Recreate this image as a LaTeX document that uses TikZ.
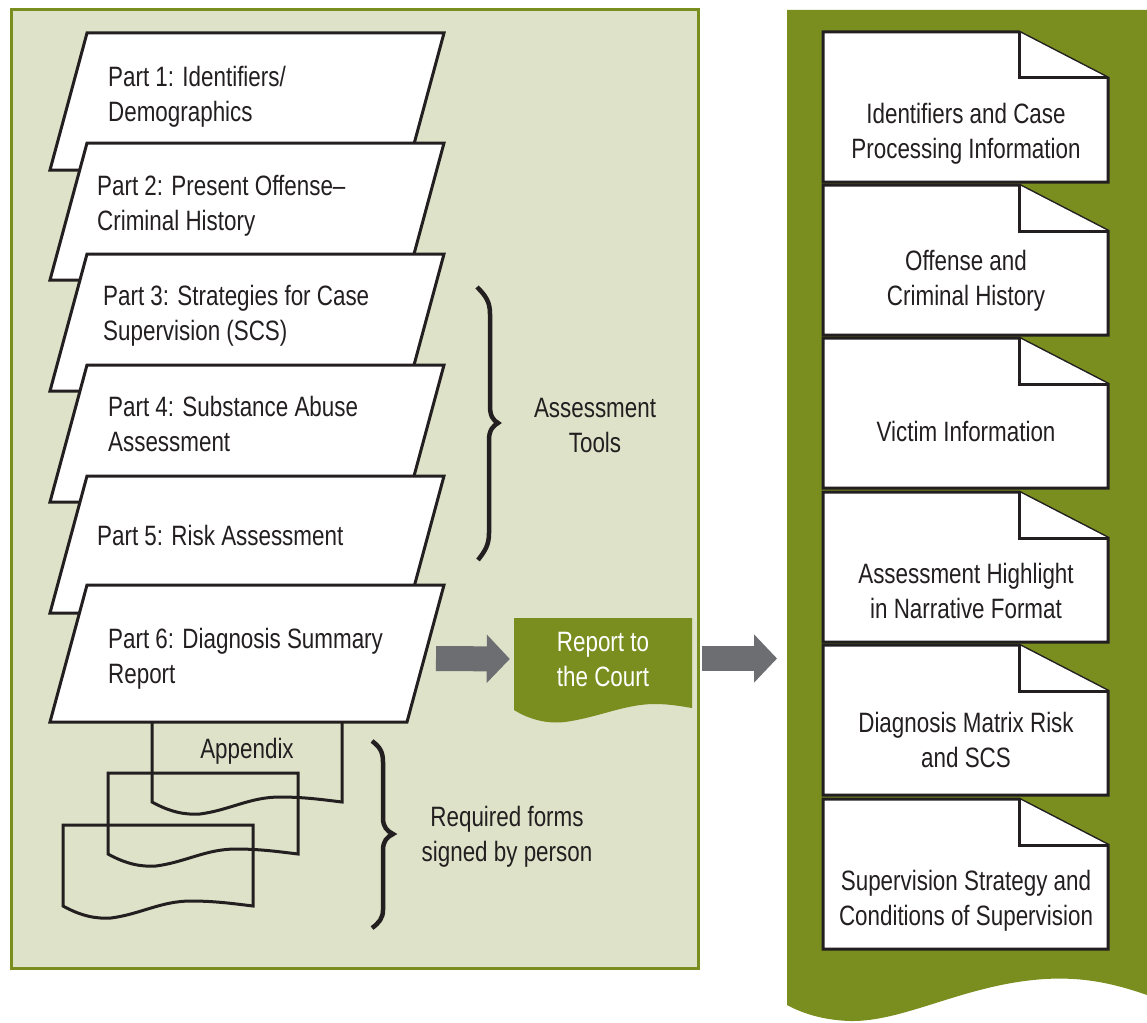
\documentclass[tikz,border=0pt]{standalone}
\usepackage{fontspec}
\setmainfont[FakeStretch=0.8]{Liberation Sans}
\usetikzlibrary{arrows.meta}

\definecolor{panel}{HTML}{DDE2C8}
\definecolor{olive}{HTML}{7A8E1F}
\definecolor{ink}{HTML}{231F20}
\definecolor{arrowgray}{HTML}{6D6E71}

\tikzstyle{sheet}=[draw=ink, line width=3pt, fill=white]
\tikzstyle{form}=[draw=ink, line width=3pt]
\tikzstyle{curly}=[draw=ink, line width=4.5pt]
\tikzstyle{part-text}=[anchor=west, align=left, inner sep=0pt, text=ink,
                       font=\fontsize{28}{35}\selectfont]
\tikzstyle{doc-text}=[align=center, inner sep=0pt, text=ink,
                      font=\fontsize{28}{35}\selectfont]
\tikzstyle{report-text}=[align=center, inner sep=0pt, text=white,
                         font=\fontsize{28}{35}\selectfont]
\tikzstyle{block-arrow}=[draw=arrowgray, line width=25pt,
                         -{Triangle[length=23pt,width=47pt,fill=arrowgray]}]

\begin{document}
\begin{tikzpicture}[x=1pt, y=-1pt]
    \useasboundingbox (0,0) rectangle (1147,1022);
    % First we draw the two panels
    \draw[draw=olive, line width=3pt, fill=panel] (11,10) rectangle (698,968);
    \fill[olive] (787,10) -- (1147,10) -- (1147,995)
        .. controls (1110,982) and (1080,977) .. (1045,979)
        .. controls (965,984) and (905,1022) .. (850,1021)
        .. controls (820,1020) and (800,1012) .. (787,1005) -- cycle;
    % Appendix forms behind the last part
    \foreach \dx/\dy in {0/0, -44/52, -89/104}
      \draw[form, shift={(\dx,\dy)}] (152,802) -- (152,721) -- (342,721) -- (342,802)
          .. controls (325,800) and (305,797) .. (280,797)
          .. controls (250,797) and (230,810) .. (200,814)
          .. controls (185,815) and (170,812) .. (152,802) -- cycle;
    \node[doc-text] (appendix) at (247,751) {Appendix};
    % Then the six parts of the report
    \foreach \t/\x/\dy/\name/\txt in {33/108/64/part1/{Part 1: Identifiers/\\Demographics},
        143/97/63/part2/{Part 2: Present Offense--\\Criminal History},
        254/103/62/part3/{Part 3: Strategies for Case\\Supervision (SCS)},
        365/108/59/part4/{Part 4: Substance Abuse\\Assessment},
        476/97/59/part5/{Part 5: Risk Assessment},
        585/108/74/part6/{Part 6: Diagnosis Summary\\Report}} {
      \filldraw[sheet] (87,\t) -- (444,\t) -- (407,{\t+137}) -- (50,{\t+137}) -- cycle;
      \node[part-text] (\name) at (\x,{\t+\dy}) {\txt};
    }
    % Braces and their labels
    \draw[curly] (477,287) .. controls (486,296) and (490,302) .. (490,314) -- (490,406)
        .. controls (490,416) and (493,420) .. (498,423)
        .. controls (493,426) and (489,430) .. (489,440) -- (489,533)
        .. controls (489,545) and (485,551) .. (478,560);
    \node[doc-text] (tools) at (595,425) {Assessment\\Tools};
    \draw[curly] (372,741) .. controls (380,747) and (383,752) .. (383,762) -- (383,818)
        .. controls (383,827) and (387,831) .. (393,834)
        .. controls (387,837) and (383,841) .. (383,850) -- (383,910)
        .. controls (383,918) and (379,923) .. (372,928);
    \node[doc-text] (forms) at (507,837) {Required forms\\signed by person};
    % Report to the court
    \fill[olive] (514,618) -- (692,618) -- (692,708)
        .. controls (680,706) and (668,704) .. (655,704)
        .. controls (625,704) and (600,717) .. (565,722)
        .. controls (548,724) and (530,720) .. (514,710) -- cycle;
    \node[report-text, minimum width=178pt] (report) at (603,659) {Report to\\the Court};
    % Right column of folded documents
    \foreach \t/\dy/\name/\txt in {32/102/doc1/{Identifiers and Case\\Processing Information},
        185/96/doc2/{Offense and\\Criminal History},
        338/93/doc3/{Victim Information},
        492/99/doc4/{Assessment Highlight\\in Narrative Format},
        645/95/doc5/{Diagnosis Matrix Risk\\and SCS},
        799/102/doc6/{Supervision Strategy and\\Conditions of Supervision}} {
      \filldraw[sheet] (823,\t) -- (1019,\t) -- (1108,{\t+46}) -- (1108,{\t+150})
          -- (823,{\t+150}) -- cycle;
      \draw[sheet] (1019,\t) -- (1019,{\t+46}) -- (1108,{\t+46});
      \node[doc-text] (\name) at (966,{\t+\dy}) {\txt};
    }
    % Connect with block arrows
    \coordinate (out6) at (436,658.5);
    \coordinate (out-report) at (702,658.5);
    \coordinate (summary-in) at (777,658.5);
    \path[block-arrow, shorten >=4pt] (out6) -- (report.west);
    \path[block-arrow] (out-report) -- (summary-in);
\end{tikzpicture}
\end{document}
